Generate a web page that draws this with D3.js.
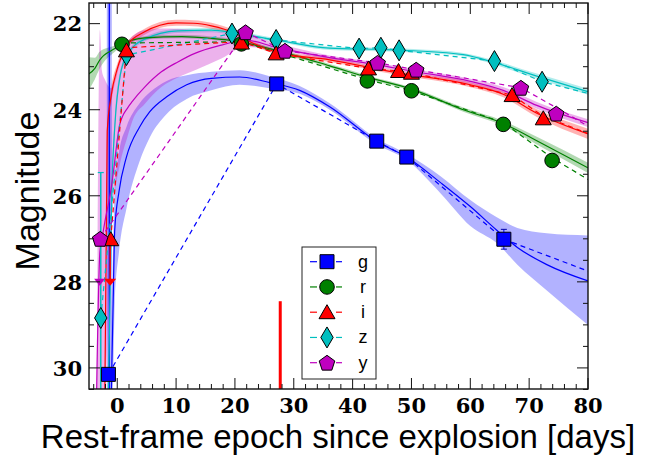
<!DOCTYPE html>
<html><head><meta charset="utf-8">
<script src="https://cdn.jsdelivr.net/npm/d3@7"></script>
<style>body{margin:0;background:#fff}svg{display:block}</style>
</head><body>
<svg id="c" width="659" height="459"></svg>
<script>
// ---------------- data ----------------
const bands = ["g","r","i","z","y"];
const bandColors = ["#0000ff","#008000","#ff0000","#00bfbf","#bf00bf"];

// observed photometry
const gEpoch = [-1.5, 27.1, 44.1, 49.2, 65.7];
const gMag   = [30.15, 23.4, 24.73, 25.1, 27.01];
const gErr   = [0.05, 0.05, 0.05, 0.05, 0.23];
const rEpoch = [0.8, 21.1, 42.5, 50.0, 65.6, 73.9];
const rMag   = [22.48, 22.47, 23.33, 23.56, 24.34, 25.18];
const iEpoch = [-1.1, 1.56, 21.1, 27.0, 42.7, 47.8, 50.0, 67.1, 72.4];
const iMag   = [27.01, 22.62, 22.44, 22.69, 23.04, 23.1, 23.14, 23.66, 24.2];
const zEpoch = [-2.8, 1.56, 19.5, 27.0, 41.1, 44.8, 47.9, 64.1, 72.2];
const zMag   = [28.84, 22.73, 22.23, 22.38, 22.58, 22.56, 22.62, 22.87, 23.35];
const zErrUp = [3.38, 0.05, 0.05, 0.05, 0.05, 0.05, 0.05, 0.05, 0.05];
const yEpoch = [-2.9, 21.8, 28.5, 44.25, 50.8, 68.6, 74.6];
const yMag   = [27.0, 22.2, 22.63, 22.91, 23.07, 23.49, 24.09];
// upper limits
const iLimEpoch = [-1.2]; const iLimMag = [28.0]; const iLimFrom = [27.0];
const yLimEpoch = [-3.0]; const yLimMag = [28.0];

// model fits (solid line + shaded band)
const gFitT  = [-1.0, -0.7, -0.43, 0.3, 1.56, 3.8, 5.5, 8.4, 11.8, 16.0, 20.8, 25.9, 31, 36.1, 44.1, 49.2, 55, 60, 64.5, 68, 73, 80];
const gFitM  = [30.5, 28.5, 26.8, 25.9, 25.1, 24.4, 24.05, 23.7, 23.42, 23.27, 23.24, 23.37, 23.55, 23.93, 24.74, 25.1, 25.7, 26.25, 26.8, 27.2, 27.6, 27.98];
const gFitLo = [29.0, 27.2, 25.9, 25.0, 24.4, 23.85, 23.6, 23.33, 23.2, 23.12, 23.08, 23.22, 23.45, 23.85, 24.67, 25.03, 25.55, 26.1, 26.5, 26.75, 26.87, 26.92];
const gFitHi = [30.5, 30.5, 28.5, 27.3, 26.3, 25.2, 24.65, 24.1, 23.75, 23.55, 23.42, 23.5, 23.63, 24.0, 24.81, 25.17, 25.95, 26.7, 27.1, 27.6, 28.2, 29.0];
const gEarlyT = [-1.35];

const rFitT = [-5, -3.8, -3, -0.4, 0.8, 4.7, 11, 16, 20, 27, 36.1, 42.6, 50, 58.8, 65.6, 71.3, 80];
const rFitM = [23.18, 23.04, 22.85, 22.58, 22.48, 22.33, 22.3, 22.34, 22.4, 22.62, 22.98, 23.25, 23.52, 24.0, 24.32, 24.72, 25.35];
const rFitE = [0.4, 0.25, 0.2, 0.07, 0.05, 0.04, 0.04, 0.04, 0.04, 0.04, 0.04, 0.04, 0.04, 0.05, 0.06, 0.09, 0.12];

const iFitT = [-2.1, -1.7, -1.0, 0.0, 1.5, 4.5, 10, 13, 16, 20, 23, 27, 36.1, 47.5, 60, 65.6, 71.3, 80];
const iFitM = [30.5, 24.5, 23.65, 23.05, 22.55, 22.2, 21.98, 21.99, 22.05, 22.22, 22.45, 22.66, 22.84, 23.14, 23.42, 23.64, 24.08, 24.56];
const iFitE = [0.3, 0.25, 0.2, 0.12, 0.08, 0.07, 0.07, 0.07, 0.07, 0.06, 0.05, 0.05, 0.05, 0.05, 0.06, 0.07, 0.09, 0.12];

const zFitT = [-1.5, -0.9, -0.4, 0.5, 1.8, 4.7, 10.3, 16, 20, 27, 36.1, 44.8, 50.3, 58.8, 64, 71.3, 80];
const zFitM = [30.5, 25.8, 24.36, 23.2, 22.7, 22.36, 22.17, 22.15, 22.22, 22.38, 22.57, 22.6, 22.63, 22.72, 22.9, 23.22, 23.58];
const zFitE = [0.3, 0.25, 0.2, 0.1, 0.07, 0.05, 0.05, 0.05, 0.05, 0.04, 0.04, 0.04, 0.04, 0.04, 0.05, 0.06, 0.07];

const yFitT  = [-3.5, -2.95, -2.6, -2.1, -1.0, -0.7, 0.4, 1.8, 2.6, 4.7, 7.5, 10.3, 13.2, 17.7, 21.7, 27, 36.1, 44, 50, 60, 65.6, 71.3, 80];
const yFitM  = [30.5, 27.3, 27.0, 26.6, 25.8, 25.5, 24.36, 23.95, 23.8, 23.47, 23.12, 22.89, 22.69, 22.5, 22.38, 22.55, 22.79, 22.95, 23.1, 23.34, 23.55, 23.9, 24.3];
const yFitLo = [30.5, 22.15, 23.1, 23.3, 23.5, 23.4, 22.9, 22.42, 22.3, 22.15, 22.11, 22.12, 22.15, 22.19, 22.24, 22.45, 22.74, 22.9, 23.05, 23.28, 23.47, 23.82, 24.22];
const yFitHi = [30.5, 30.5, 30.5, 30.5, 26.6, 26.2, 25.3, 24.6, 24.25, 23.86, 23.47, 23.25, 23.08, 22.81, 22.54, 22.62, 22.84, 23.0, 23.15, 23.4, 23.62, 23.98, 24.4];

// dashed interpolation lines
const gDashT = [-1.5, 27.1, 44.1, 49.2, 65.7, 80];
const gDashM = [30.15, 23.4, 24.73, 25.1, 27.01, 27.75];
const rDashT = [0.8, 21.1, 42.5, 50, 65.6, 73.9, 80];
const rDashM = [22.45, 22.42, 23.3, 23.56, 24.3, 25.12, 25.62];
const iDashT = [-1.1, 1.56, 21.1, 27.0, 42.7, 47.8, 50.0, 67.1, 72.4, 80];
const iDashM = [27.01, 22.56, 22.42, 22.69, 23.04, 23.1, 23.14, 23.66, 24.15, 24.55];
const zDashT = [-2.8, 1.56, 19.5, 27.0, 41.1, 44.8, 47.9, 64.1, 72.2, 80];
const zDashM = [28.84, 22.73, 22.23, 22.38, 22.58, 22.56, 22.62, 22.87, 23.35, 23.62];
const yDashT = [-2.9, 21.8, 28.5, 44.25, 50.8, 68.6, 74.6, 80];
const yDashM = [27.0, 22.2, 22.63, 22.91, 23.07, 23.49, 23.95, 24.38];

// vertical marker
const vlineEpoch = [27.7]; const vlineTop = [28.45];

// axes
const xTicksMajor = [0,10,20,30,40,50,60,70,80];
const yTicksMajor = [22,24,26,28,30];

// ---------------- drawing ----------------
const svg = d3.select("#c");
const L=89, R=588, T=3, B=389;
const x = d3.scaleLinear().domain([-4.8,80]).range([L,R]);
const y = d3.scaleLinear().domain([21.52,30.49]).range([T,B]);

svg.append("defs").append("clipPath").attr("id","clip")
  .append("rect").attr("x",L).attr("y",T).attr("width",R-L).attr("height",B-T);
const plot = svg.append("g").attr("clip-path","url(#clip)");

function zipBand(t,m,lo,hi){return t.map((d,k)=>({t:d,m:m[k],lo:lo[k],hi:hi[k]}));}
function symBand(t,m,e){return zipBand(t,m,m.map((v,k)=>v-e[k]),m.map((v,k)=>v+e[k]));}
const fits = [
  zipBand(gFitT,gFitM,gFitLo,gFitHi),
  symBand(rFitT,rFitM,rFitE),
  symBand(iFitT,iFitM,iFitE),
  symBand(zFitT,zFitM,zFitE),
  zipBand(yFitT,yFitM,yFitLo,yFitHi)
];
const dashes = [[gDashT,gDashM],[rDashT,rDashM],[iDashT,iDashM],[zDashT,zDashM],[yDashT,yDashM]];
const order = [0,3,1,2,4];

const area = d3.area().x(d=>x(d.t)).y0(d=>y(d.hi)).y1(d=>y(d.lo)).curve(d3.curveMonotoneX);
const line = d3.line().x(d=>x(d.t)).y(d=>y(d.m)).curve(d3.curveMonotoneX);

// bands
order.forEach(k=>{
  plot.append("path").attr("d",area(fits[k])).attr("fill",bandColors[k]).attr("fill-opacity",0.3);
});
// g early vertical segment
gEarlyT.forEach(t=>{
  plot.append("rect").attr("x",x(t)-2.5).attr("y",T).attr("width",5).attr("height",B-T)
    .attr("fill",bandColors[0]).attr("fill-opacity",0.3);
  plot.append("line").attr("x1",x(t)).attr("x2",x(t)).attr("y1",T).attr("y2",B)
    .attr("stroke",bandColors[0]).attr("stroke-width",1.3);
});
// fit lines
order.forEach(k=>{
  plot.append("path").attr("d",line(fits[k])).attr("fill","none")
    .attr("stroke",bandColors[k]).attr("stroke-width",1.2);
});
// dashed lines
const lineLin = d3.line().x(d=>x(d[0])).y(d=>y(d[1]));
order.forEach(k=>{
  const pts = dashes[k][0].map((t,j)=>[t,dashes[k][1][j]]);
  plot.append("path").attr("d",lineLin(pts)).attr("fill","none")
    .attr("stroke",bandColors[k]).attr("stroke-width",1.2).attr("stroke-dasharray","5,4");
});
// vertical red line
vlineEpoch.forEach((t,j)=>{
  plot.append("line").attr("x1",x(t)).attr("x2",x(t)).attr("y1",y(vlineTop[j])).attr("y2",B)
    .attr("stroke","#ff0000").attr("stroke-width",3);
});

// markers
function markerPath(kind){
  switch(kind){
    case "g": return "M-7,-7H7V7H-7Z";
    case "r": return d3.symbol(d3.symbolCircle, Math.PI*7.3*7.3)();
    case "i": return "M0,-7.5L8,6.5L-8,6.5Z";
    case "z": return "M0,-10.5L6.2,0L0,10.5L-6.2,0Z";
    case "y": {
      const p=[]; for(let a=0;a<5;a++){const ang=-Math.PI/2+a*2*Math.PI/5; p.push([8.2*Math.cos(ang),8.2*Math.sin(ang)+0.8]);}
      return "M"+p.map(q=>q[0].toFixed(2)+","+q[1].toFixed(2)).join("L")+"Z";
    }
  }
}
const obs = [
  [gEpoch,gMag],[rEpoch,rMag],[iEpoch,iMag],[zEpoch,zMag],[yEpoch,yMag]
];
const mk = plot.append("g");
// error bars visible
gEpoch.forEach((t,j)=>{
  if(gErr[j]>0.1){
    mk.append("line").attr("x1",x(t)).attr("x2",x(t)).attr("y1",y(gMag[j]-gErr[j])).attr("y2",y(gMag[j]+gErr[j])).attr("stroke",bandColors[0]).attr("stroke-width",1);
    [gMag[j]-gErr[j],gMag[j]+gErr[j]].forEach(v=>mk.append("line").attr("x1",x(t)-3).attr("x2",x(t)+3).attr("y1",y(v)).attr("y2",y(v)).attr("stroke","#0000aa").attr("stroke-width",1));
  }
});
zEpoch.forEach((t,j)=>{
  if(zErrUp[j]>1){
    mk.append("line").attr("x1",x(t)).attr("x2",x(t)).attr("y1",y(zMag[j]-zErrUp[j])).attr("y2",B)
      .attr("stroke",bandColors[3]).attr("stroke-width",1.5);
    mk.append("line").attr("x1",x(t)-3).attr("x2",x(t)+3).attr("y1",y(zMag[j]-zErrUp[j])).attr("y2",y(zMag[j]-zErrUp[j]))
      .attr("stroke",bandColors[3]).attr("stroke-width",1.2);
  }
});
// upper limits
iLimEpoch.forEach((t,j)=>{
  mk.append("line").attr("x1",x(t)).attr("x2",x(t)).attr("y1",y(iLimFrom[j])).attr("y2",y(iLimMag[j]))
    .attr("stroke",bandColors[2]).attr("stroke-width",1.5);
  mk.append("path").attr("d","M-6,-3H6L0,4Z").attr("transform",`translate(${x(t)},${y(iLimMag[j])})`).attr("fill",bandColors[2]);
});
yLimEpoch.forEach((t,j)=>{
  mk.append("path").attr("d","M-5.5,-3H5.5L0,4Z").attr("transform",`translate(${x(t)},${y(yLimMag[j])})`).attr("fill",bandColors[4]);
});
order.forEach(k=>{
  const [ts,ms]=obs[k];
  ts.forEach((t,j)=>{
    mk.append("path").attr("d",markerPath(bands[k])).attr("transform",`translate(${x(t)},${y(ms[j])})`)
      .attr("fill",bandColors[k]).attr("stroke","#000").attr("stroke-width",1);
  });
});

// axes frame and ticks
const ax = svg.append("g");
ax.append("rect").attr("x",L).attr("y",T).attr("width",R-L).attr("height",B-T)
  .attr("fill","none").attr("stroke","#111").attr("stroke-width",1.4);
const xMinor = d3.range(-4,81,2).filter(v=>v%10!==0);
const yMinor = d3.range(22,30.6,0.5).filter(v=>Math.abs(v/2-Math.round(v/2))>1e-6);
function tk(x1,y1,x2,y2){ax.append("line").attr("x1",x1).attr("y1",y1).attr("x2",x2).attr("y2",y2).attr("stroke","#111").attr("stroke-width",1);}
xTicksMajor.forEach(v=>{tk(x(v),B,x(v),B-11);tk(x(v),T,x(v),T+11);});
xMinor.forEach(v=>{tk(x(v),B,x(v),B-5);tk(x(v),T,x(v),T+5);});
yTicksMajor.forEach(v=>{tk(L,y(v),L+11,y(v));tk(R,y(v),R-11,y(v));});
yMinor.forEach(v=>{tk(L,y(v),L+5,y(v));tk(R,y(v),R-5,y(v));});

const tf = "'DejaVu Serif', serif";
xTicksMajor.forEach(v=>{
  ax.append("text").attr("x",x(v)).attr("y",412.5).attr("text-anchor","middle")
    .attr("font-family",tf).attr("font-weight","bold").attr("font-size",21).attr("fill","#000").text(v);
});
yTicksMajor.forEach(v=>{
  ax.append("text").attr("x",82).attr("y",y(v)+7.8).attr("text-anchor","end")
    .attr("font-family",tf).attr("font-weight","bold").attr("font-size",21).attr("fill","#000").text(v);
});
const lf = "'Liberation Sans', Arial, sans-serif";
ax.append("text").attr("x",338).attr("y",448).attr("text-anchor","middle")
  .attr("font-family",lf).attr("font-size",33).attr("fill","#000").text("Rest-frame epoch since explosion [days]");
ax.append("text").attr("transform","translate(39,191) rotate(-90)").attr("text-anchor","middle")
  .attr("font-family",lf).attr("font-size",34).attr("fill","#000").text("Magnitude");

// legend
const lg = svg.append("g");
lg.append("rect").attr("x",302).attr("y",247).attr("width",74).attr("height",132)
  .attr("fill","#fff").attr("stroke","#222").attr("stroke-width",1);
bands.forEach((b,k)=>{
  const ly = 261.7 + k*25.25;
  lg.append("line").attr("x1",310).attr("x2",317).attr("y1",ly).attr("y2",ly).attr("stroke",bandColors[k]).attr("stroke-width",1.2);
  lg.append("line").attr("x1",336).attr("x2",342).attr("y1",ly).attr("y2",ly).attr("stroke",bandColors[k]).attr("stroke-width",1.2);
  lg.append("path").attr("d",markerPath(b)).attr("transform",`translate(327,${ly})`)
    .attr("fill",bandColors[k]).attr("stroke","#000").attr("stroke-width",1);
  lg.append("text").attr("x",363).attr("y",ly+6).attr("text-anchor","middle")
    .attr("font-family",lf).attr("font-size",18).attr("fill","#000").text(b);
});
</script>
</body></html>
